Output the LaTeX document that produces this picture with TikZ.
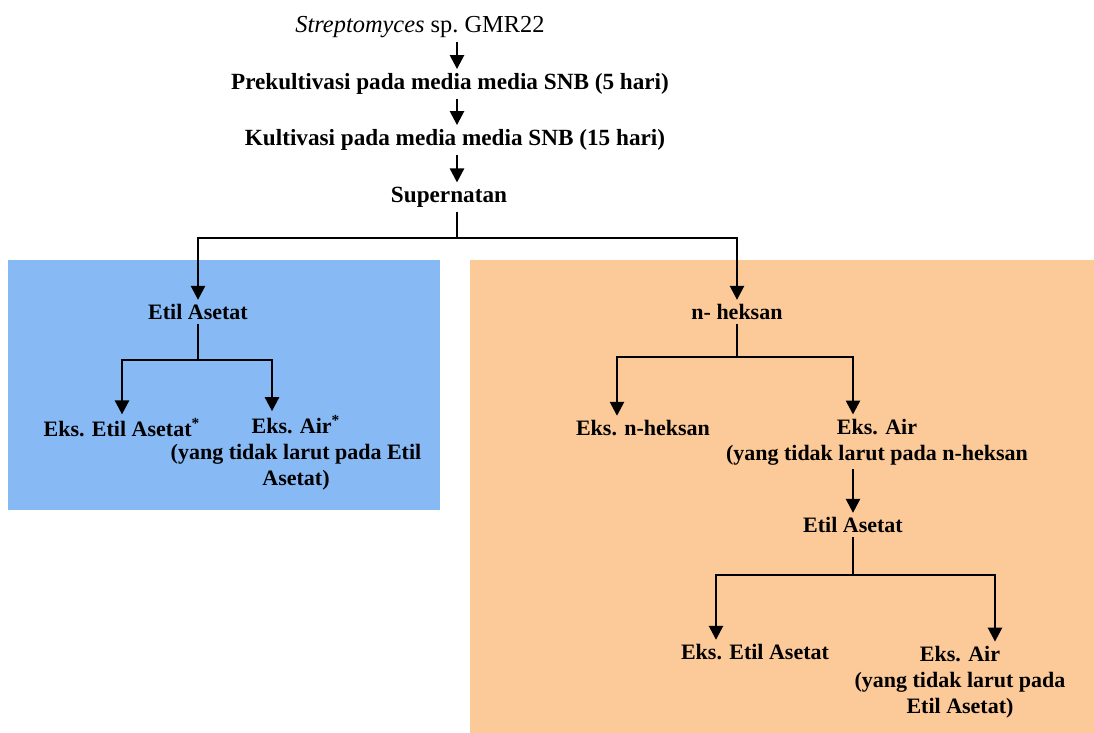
\documentclass[tikz,border=0pt]{standalone}
\usepackage{fontspec}
\setmainfont{Liberation Serif}
\usetikzlibrary{arrows.meta}
\definecolor{boxblue}{RGB}{135,185,245}
\definecolor{boxorange}{RGB}{252,201,152}

\begin{document}
\begin{tikzpicture}[x=0.5pt,y=-0.5pt,
		lbl/.style={font=\bfseries\fontsize{11}{13}\selectfont,align=center,inner sep=2pt},
		big/.style={font=\bfseries\fontsize{11.6}{13}\selectfont},
		arr/.style={-{Triangle[width=7pt,length=7pt]},line width=1.25pt},
		ln/.style={line width=1.25pt}]
			\useasboundingbox (0,0) rectangle (1094,733);
			\fill[boxblue] (8,260) rectangle (440,510);
			\fill[boxorange] (470,260) rectangle (1094,733);
			% main line
			\node[lbl,font=\fontsize{12.2}{13}\selectfont] (src) at (420,27) {\textit{Streptomyces} sp.\ GMR22};
			\node[lbl,big] (pre) at (450,84) {Prekultivasi pada media media SNB (5 hari)};
			\node[lbl,big] (kul) at (455,140) {Kultivasi pada media media SNB (15 hari)};
			\node[lbl,big] (sup) at (449,197) {Supernatan};
			\coordinate (spine) at (457,238);
			\draw[arr] (src.south -| spine) -- (pre.north -| spine);
			\draw[arr] (pre.south -| spine) -- (kul.north -| spine);
			\draw[arr] (kul.south -| spine) -- (sup.north -| spine);
			\draw[ln] (sup.south -| spine) -- (spine);
			% etil asetat branch
			\node[lbl] (etA) at (198,312) {Etil Asetat};
			\coordinate (bA) at (198,360);
			\node[lbl] (eksA) at (122,428) {Eks. Etil Asetat\textsuperscript{*}};
			\node[lbl] (airA) at (296,453) {Eks. Air\textsuperscript{*}\\(yang tidak larut pada Etil\\Asetat)};
			\draw[arr] (spine) -| (etA);
			\draw[ln] (etA) -- (bA);
			\draw[arr] (bA) -| (eksA);
			\draw[arr] (bA) -| ([xshift=-12pt]airA.north);
			% n-heksan branch
			\node[lbl] (nA) at (737,312) {n- heksan};
			\coordinate (bB) at (737,357);
			\node[lbl] (eksB) at (643,428) {Eks. n-heksan};
			\node[lbl] (airB) at (877,442) {Eks. Air\\(yang tidak larut pada n-heksan};
			\draw[arr] (spine) -| (nA);
			\draw[ln] (nA) -- (bB);
			\draw[arr] (bB) -| ([xshift=-13pt]eksB.north);
			\draw[arr] (bB) -| ([xshift=-12pt]airB.north);
			\node[lbl] (eaB) at (853,525) {Etil Asetat};
			\coordinate (bC) at (853,575);
			\node[lbl] (eksC) at (755,652) {Eks. Etil Asetat};
			\node[lbl] (airC) at (960,682) {Eks. Air\\(yang tidak larut pada\\Etil Asetat)};
			\draw[arr] (airB.south -| eaB) -- (eaB);
			\draw[ln] (eaB) -- (bC);
			\draw[arr] (bC) -| ([xshift=-19.5pt]eksC.north);
			\draw[arr] (bC) -| ([xshift=17.5pt]airC.north);
		\end{tikzpicture}
\end{document}
